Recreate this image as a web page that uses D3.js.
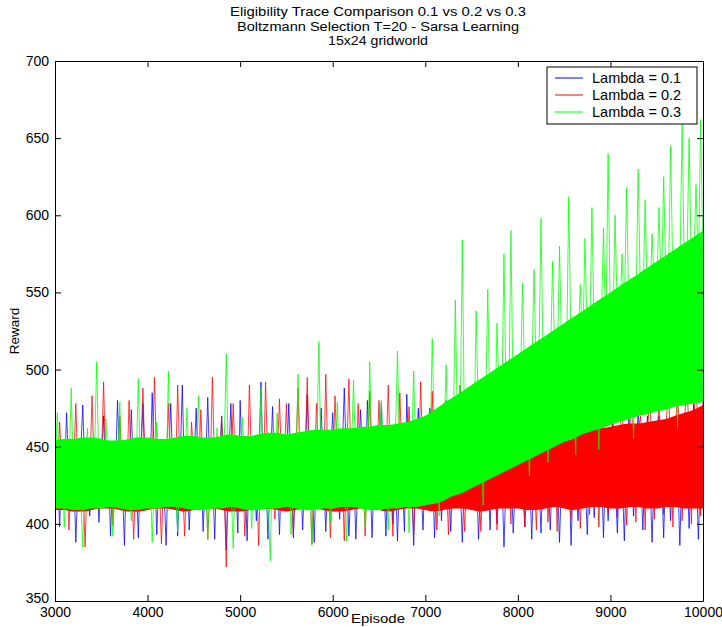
<!DOCTYPE html>
<html><head><meta charset="utf-8">
<script src="https://cdn.jsdelivr.net/npm/d3@7"></script>
<style>body{margin:0;background:#fff}svg{display:block}text{font-family:"Liberation Sans",Arial,sans-serif;fill:#000}</style>
</head><body><div id="chart"></div>
<script>
// ---- data ----
const titleLines = ["Eligibility Trace Comparison 0.1 vs 0.2 vs 0.3", "Boltzmann Selection T=20 - Sarsa Learning", "15x24 gridworld"];
const seriesNames = ["Lambda = 0.1", "Lambda = 0.2", "Lambda = 0.3"];
const seriesColors = ["#0000ff", "#ff0000", "#00ff00"];
const episodeStart = 3000, episodeStep = 25, bandStep = 100;
const xTicks = [3000, 4000, 5000, 6000, 7000, 8000, 9000, 10000];
const yTicks = [350, 400, 450, 500, 550, 600, 650, 700];

// dense core of each noisy trace (lower / upper edge), one value every 100 episodes
const lambda01Low = [
413,413,414,414,413,413,412,413,414,414, 413,413,412,412,413,414,414,413,413,412,
413,414,414,413,413,412,413,414,414,413, 413,412,413,414,414,413,413,412,413,414,
414,413,413,412,413,414,414,413,413,412, 413,414,414,413,413,412,413,414,414,413,
413,412,413,414,414,413,413,412,413,414, 414];
const lambda01High = [
446,447,447,448,448,447,446,446,447,448, 448,447,447,446,447,448,448,449,448,447,
447,448,449,449,448,447,448,449,450,449, 448,448,449,450,450,449,448,449,450,450,
449,448,449,450,450,449,448,449,450,450, 449,449,450,451,450,449,450,451,451,450,
450,451,452,452,451,451,452,453,453,452, 453];
const lambda02Low = [
409,409,408,408,409,410,410,409,408,408, 409,410,410,409,408,409,410,410,409,408,
408,409,410,410,409,408,409,410,410,409, 408,408,409,410,410,409,408,409,410,410,
409,408,409,410,410,409,408,409,410,410, 410,409,409,410,411,410,409,410,411,411,
410,410,411,411,410,410,411,411,410,410, 410];
const lambda02High = [
452,453,453,454,454,453,452,452,453,454, 454,453,453,452,453,454,454,455,454,453,
453,454,455,455,454,453,454,455,456,455, 454,454,455,456,456,455,454,455,456,456,
455,454,455,456,456,455,454,455,456,456, 455,456,457,458,458,459,460,461,462,462,
463,464,465,465,466,467,468,470,472,474, 477];
const lambda03Low = [
410,410,409,409,410,410,411,410,409,409, 410,410,411,411,410,409,409,410,410,411,
410,409,409,410,410,411,410,409,409,410, 410,411,411,410,409,409,410,410,411,411,
412,413,415,418,420,423,426,429,432,435, 438,441,444,447,450,453,455,458,460,462,
464,466,468,470,471,473,474,476,477,478, 479];
const lambda03High = [
454,455,455,456,456,455,454,454,455,456, 456,455,455,456,457,457,456,456,457,458,
457,457,458,459,459,458,459,460,461,461, 461,462,462,463,463,464,464,465,466,468,
470,474,478,482,486,490,494,498,502,506, 510,514,518,522,526,530,534,538,542,546,
550,554,558,562,566,570,574,578,582,586, 590];

// individual episode readings (one every 25 episodes)
const lambda01 = [
430,436,398,441,428,472,433,425,438,388,431,444,477,429,435,405,439,426,432,401,
436,470,429,440,392,434,427,480,438,431,386,442,433,474,428,437,391,441,478,430,
434,429,485,437,393,440,431,427,386,438,478,432,441,392,436,490,428,439,396,433,
437,475,430,441,395,434,482,428,436,390,442,433,470,427,383,439,478,431,436,394,
480,433,438,389,442,429,435,402,437,492,431,440,390,434,476,428,436,393,441,430,
432,478,437,391,433,429,440,396,435,484,431,438,388,442,430,475,436,395,433,441,
472,434,429,403,441,488,436,392,430,438,390,433,474,441,427,480,437,391,434,439,
438,478,431,392,442,433,400,436,389,440,431,395,484,437,429,386,443,475,434,396,
436,430,475,439,391,433,441,402,437,480,431,395,440,434,470,429,388,437,472,432,
434,472,438,390,429,441,478,436,396,440,431,400,475,437,385,433,470,439,394,431,
438,468,432,398,440,435,390,437,466,431,394,443,478,436,396,441,470,433,388,437,
435,472,441,386,438,433,402,444,475,431,393,440,436,404,434,470,438,391,443,402,
437,466,432,394,441,436,389,439,468,434,405,442,474,437,396,440,470,433,388,438,
441,470,436,391,444,438,402,440,466,435,386,443,472,439,397,437,478,441,390,436,
462];
const lambda02 = [
433,428,466,437,424,441,396,430,435,478,427,439,432,385,436,429,483,434,440,426,
438,492,431,427,442,399,435,429,470,437,441,425,480,433,390,438,428,443,488,432,
429,436,441,495,433,427,387,439,434,478,430,442,426,490,437,431,392,436,428,466,
440,433,427,474,436,441,390,429,495,435,438,427,469,433,372,440,430,478,436,428,
435,441,392,429,490,437,431,436,386,443,428,492,434,439,427,403,441,481,433,438,
478,431,437,393,442,488,434,429,440,495,436,387,431,478,437,442,426,497,434,391,
432,483,439,428,436,389,441,494,433,437,429,478,435,441,392,430,486,437,432,440,
480,436,429,442,490,434,392,438,431,485,440,427,436,476,433,393,441,429,492,437,
434,440,428,486,437,396,431,442,478,436,393,439,474,430,441,490,434,395,437,472,
436,468,429,441,395,433,480,438,427,488,435,396,442,470,431,437,459,400,482,436,
442,475,437,398,446,431,480,440,396,449,434,478,443,401,439,463,447,395,472,441,
445,476,439,403,448,470,436,397,451,472,442,406,455,480,444,398,449,474,440,407,
450,468,443,404,456,476,447,399,452,482,445,401,458,470,449,396,460,484,446,403,
456,478,448,406,462,490,451,398,459,486,453,402,465,494,457,400,468,488,461,405,
488];
const lambda03 = [
430,472,425,438,398,441,433,488,428,436,446,421,385,434,462,430,427,440,505,432,
437,426,468,433,441,392,429,438,479,424,435,446,427,402,439,431,494,428,443,436,
425,441,388,433,466,438,429,445,423,499,431,437,427,395,442,434,428,475,436,424,
439,431,483,427,444,436,390,432,441,428,462,437,425,443,510,433,429,384,438,444,
426,469,434,440,429,397,436,443,427,488,432,438,424,376,441,435,472,430,445,428,
437,442,393,431,426,497,439,433,428,444,436,386,425,441,518,434,429,447,438,401,
440,433,479,428,445,437,389,431,442,493,436,427,444,439,398,433,505,441,429,446,
438,480,442,431,396,447,436,452,512,440,433,449,438,394,443,499,437,451,441,446,
448,455,441,520,452,446,405,458,450,503,444,460,453,545,449,456,584,451,458,447,
462,455,538,467,459,412,470,552,465,473,461,530,477,469,575,472,466,590,479,474,
486,480,556,492,488,431,495,565,490,498,598,493,501,440,497,570,503,496,580,505,
508,502,612,512,506,445,515,555,510,585,518,513,605,521,516,448,524,592,519,640,
530,524,600,534,528,575,537,618,532,540,455,536,630,543,538,610,546,541,588,549,
552,605,547,625,556,550,645,559,553,462,561,660,557,564,650,560,567,620,562,662,
570];
const seriesValues = [lambda01, lambda02, lambda03];
const seriesLow = [lambda01Low, lambda02Low, lambda03Low];
const seriesHigh = [lambda01High, lambda02High, lambda03High];

// ---- drawing ----
const W = 722, H = 627;
const FONT = '"Liberation Sans",Arial,sans-serif';
const m = {left: 55, right: 19, top: 61, bottom: 26};
const svg = d3.select("#chart").append("svg").attr("width", W).attr("height", H);
svg.append("rect").attr("width", W).attr("height", H).attr("fill", "#fff");

const x = d3.scaleLinear().domain([3000, 10000]).range([m.left, W - m.right]);
const y = d3.scaleLinear().domain([350, 700]).range([H - m.bottom, m.top]);

const plot = svg.append("g");
plot.append("clipPath").attr("id", "clip").append("rect")
  .attr("x", x(3000)).attr("y", y(700)).attr("width", x(10000) - x(3000)).attr("height", y(350) - y(700));

const line = d3.line().x((d, i) => x(episodeStart + i * episodeStep)).y(d => y(d));
const band = d3.area().x((d, i) => x(episodeStart + i * bandStep)).y0(d => y(d[0])).y1(d => y(d[1]))
  .curve(d3.curveMonotoneX);
seriesValues.forEach((vals, k) => {
  const g = plot.append("g").attr("clip-path", "url(#clip)");
  g.append("path").datum(d3.zip(seriesLow[k], seriesHigh[k]))
    .attr("fill", seriesColors[k]).attr("stroke", "none").attr("d", band);
  g.append("path").datum(vals)
    .attr("fill", "none").attr("stroke", seriesColors[k]).attr("stroke-width", 1)
    .attr("stroke-opacity", 0.75).attr("d", line);
});

// axes (box with inward ticks)
const fmt = d3.format("d");
const tickLen = 6;
const axB = svg.append("g").attr("transform", `translate(0,${y(350)})`)
  .call(d3.axisBottom(x).tickValues(xTicks).tickFormat(fmt).tickSizeInner(-tickLen).tickSizeOuter(0).tickPadding(6));
const axT = svg.append("g").attr("transform", `translate(0,${y(700)})`)
  .call(d3.axisTop(x).tickValues(xTicks).tickFormat("").tickSizeInner(-tickLen).tickSizeOuter(0));
const axL = svg.append("g").attr("transform", `translate(${x(3000)},0)`)
  .call(d3.axisLeft(y).tickValues(yTicks).tickFormat(fmt).tickSizeInner(-tickLen).tickSizeOuter(0).tickPadding(6));
const axR = svg.append("g").attr("transform", `translate(${x(10000)},0)`)
  .call(d3.axisRight(y).tickValues(yTicks).tickFormat("").tickSizeInner(-tickLen).tickSizeOuter(0));
[axB, axT, axL, axR].forEach(a => {
  a.selectAll("path.domain").attr("stroke", "#000").attr("stroke-width", 1);
  a.selectAll(".tick line").attr("stroke", "#000");
  a.selectAll("text").attr("font-size", 14).attr("font-family", FONT).attr("fill", "#000");
});
axL.selectAll(".tick").filter(d => d === 350).select("text").attr("dy", "0.1em");

// titles and labels
const titleWidths = [296, 282, 100];
titleLines.forEach((t, i) => {
  svg.append("text").attr("x", 378).attr("y", 16 + i * 14.5).attr("text-anchor", "middle")
    .attr("font-size", 12.5).attr("textLength", titleWidths[i]).attr("lengthAdjust", "spacingAndGlyphs").text(t);
});
svg.append("text").attr("x", 378).attr("y", 623).attr("text-anchor", "middle").attr("font-size", 13)
  .attr("textLength", 54).attr("lengthAdjust", "spacingAndGlyphs").text("Episode");
svg.append("text").attr("transform", "translate(19,331) rotate(-90)").attr("text-anchor", "middle")
  .attr("font-size", 13.5).text("Reward");

// legend
const lg = svg.append("g").attr("transform", "translate(547,67)");
lg.append("rect").attr("width", 150).attr("height", 57).attr("fill", "#fff").attr("stroke", "#000").attr("stroke-width", 1);
seriesNames.forEach((n, i) => {
  const yy = 11 + i * 17;
  lg.append("line").attr("x1", 8).attr("x2", 36).attr("y1", yy).attr("y2", yy)
    .attr("stroke", seriesColors[i]).attr("stroke-width", 1);
  lg.append("text").attr("x", 45).attr("y", yy + 5).attr("font-size", 14.5).text(n);
});
</script></body></html>
